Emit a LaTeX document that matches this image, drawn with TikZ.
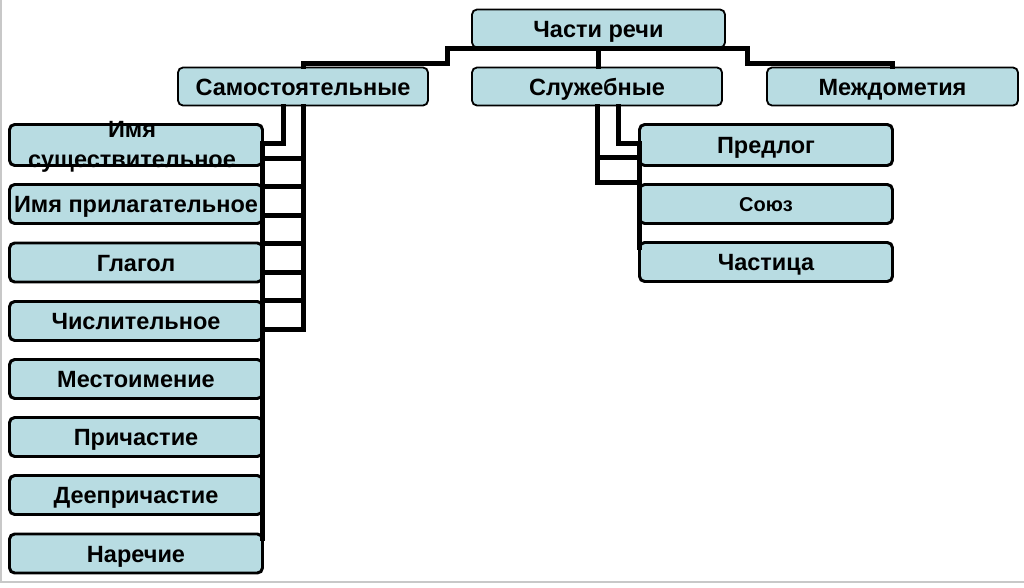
\documentclass[tikz,border=0pt]{standalone}
\usepackage{fontspec}
\setmainfont{Liberation Sans}
\usetikzlibrary{calc}
\definecolor{boxfill}{RGB}{184,220,226}
\definecolor{framegray}{RGB}{200,200,200}
\tikzset{
  bigfont/.style={font=\fontsize{23.5}{28}\selectfont\bfseries},
  box/.style={draw=black, line width=1.8pt, fill=boxfill, rounded corners=5pt,
    minimum height=38pt, inner sep=0pt, text height=17pt, text depth=0pt, bigfont},
  conn/.style={draw=black, line width=5pt, line cap=rect, line join=miter},
  txt/.style={inner sep=0pt, align=center, font=\fontsize{23.5}{29.5}\selectfont\bfseries}
}
\begin{document}
\begin{tikzpicture}[x=1pt,y=-1pt]
\useasboundingbox (0,0) rectangle (1024,587);
\fill[white] (0,0) rectangle (1024,587);
\draw[framegray, line width=2pt] (1,0) -- (1,582) -- (1024,582);

% top level boxes
\node[box, minimum width=253pt] (top) at (598.5,28.5) {Части речи};
\node[box, minimum width=250pt] (sam) at (303,86.5) {Самостоятельные};
\node[box, minimum width=250pt] (slu) at (597,86.5) {Служебные};
\node[box, minimum width=251pt] (mez) at (892.5,86.5) {Междометия};

% left column
\node[box, minimum width=252pt, minimum height=40pt] (n1) at (136,145) {};
\node[box, minimum width=252pt] (n2) at (136,204) {Имя прилагательное};
\node[box, minimum width=252pt] (n3) at (136,262.5) {Глагол};
\node[box, minimum width=252pt] (n4) at (136,321) {Числительное};
\node[box, minimum width=252pt] (n5) at (136,379) {Местоимение};
\node[box, minimum width=252pt] (n6) at (136,437) {Причастие};
\node[box, minimum width=252pt] (n7) at (136,495) {Деепричастие};
\node[box, minimum width=252pt] (n8) at (136,553.5) {Наречие};

% right column
\node[box, minimum width=252pt, minimum height=40pt] (p1) at (766,145) {Предлог};
\node[box, minimum width=252pt, font=\fontsize{20}{24}\selectfont\bfseries, text height=14pt] (p2) at (766,204) {Союз};
\node[box, minimum width=252pt] (p3) at (766,262) {Частица};

% connectors from top
\draw[conn] (top.south) -- ([xshift=-24pt]top.south west) |- ([yshift=3pt]sam.north) -- (sam.north);
\draw[conn] (top.south) -- ([xshift=22pt]top.south east) |- ([yshift=3pt]mez.north) -- (mez.north);
\draw[conn] (top.south) -- (top.south |- slu.north);

% left ladder
\draw[conn] ([xshift=-20pt]sam.south) |- ([yshift=2pt]n1.east);
\draw[conn] (sam.south) -- (sam.south |- 0,329);
\foreach \y in {158,186.5,215,243.5,272,300.5,329}
  \draw[conn] (n1.east |- 0,\y) -- (sam.south |- 0,\y);
\draw[conn] ([yshift=2pt]n1.east) -- ([yshift=-5pt]n8.north east);

% right ladder
\draw[conn] ([xshift=21pt]slu.south) |- ([yshift=2pt]p1.west);
\draw[conn] (slu.south) -- (slu.south |- 0,182);
\foreach \y in {157,182}
  \draw[conn] (slu.south |- 0,\y) -- (p1.west |- 0,\y);
\draw[conn] ([yshift=2pt]p1.west) -- ([yshift=-5pt]p3.north west);

% redraw box outlines on top of connectors where they touch
\foreach \n in {n1,n2,n3,n4,n5,n6,n7,n8,p1,p2,p3}
  \draw[line width=1.8pt, rounded corners=5pt] (\n.south west) rectangle (\n.north east);

\node[txt] (n1t) at (132,147) {Имя\\существительное};
\end{tikzpicture}
\end{document}
